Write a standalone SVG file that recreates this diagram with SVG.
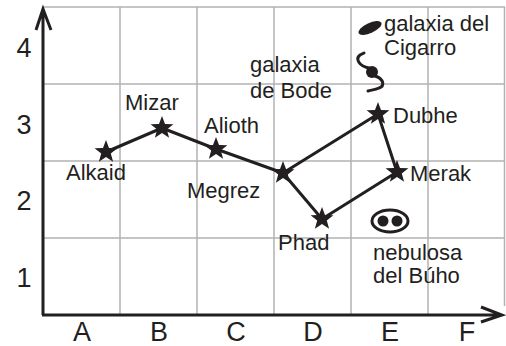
<svg xmlns="http://www.w3.org/2000/svg" width="506" height="346" viewBox="0 0 506 346">
  <defs>
    <style>
      .grid { stroke: #b3b3b3; stroke-width: 1.5; fill: none; }
      .axis { stroke: #231f20; stroke-width: 3; fill: none; stroke-linecap: butt; }
      .link { stroke: #231f20; stroke-width: 3; fill: none; stroke-linejoin: round; }
      .star { fill: #231f20; }
      .lbl { font-family: "Liberation Sans", Arial, sans-serif; font-size: 22px; fill: #231f20; }
      .tick { font-family: "Liberation Sans", Arial, sans-serif; font-size: 27px; fill: #231f20; text-anchor: middle; }
      .ink { fill: #231f20; }
      .arm { stroke: #231f20; stroke-width: 3; fill: none; stroke-linecap: round; }
    </style>
    <polygon id="star" points="0,-12 3,-4.1 11.4,-3.7 4.8,1.6 7.1,9.7 0,5 -7.1,9.7 -4.8,1.6 -11.4,-3.7 -3,-4.1"/>
  </defs>

  <!-- grid -->
  <g id="grid">
    <path class="grid" d="M43,7 H505 M43,84 H505 M43,161 H505 M43,238 H505"/>
    <path class="grid" d="M120,7 V315 M197,7 V315 M274,7 V315 M351,7 V315 M428,7 V315 M504.5,7 V306"/>
  </g>

  <!-- axes -->
  <g id="axes">
    <path class="axis" d="M43,315 V9 M36,30 L43,9 L51,30"/>
    <path class="axis" d="M42,315 H502 M481,307 L502,315 L481,322"/>
  </g>

  <!-- axis labels -->
  <g id="ticks">
    <text class="tick" x="24" y="57">4</text>
    <text class="tick" x="24" y="134">3</text>
    <text class="tick" x="24" y="210">2</text>
    <text class="tick" x="24" y="287">1</text>
    <text class="tick" x="82" y="341">A</text>
    <text class="tick" x="159" y="341">B</text>
    <text class="tick" x="236" y="341">C</text>
    <text class="tick" x="313" y="341">D</text>
    <text class="tick" x="390" y="341">E</text>
    <text class="tick" x="467" y="341">F</text>
  </g>

  <!-- connectors -->
  <g id="connectors">
    <polyline class="link" points="106,152 162,128 216,149 283,173 322,219 397,172 378,114 283,173"/>
  </g>

  <!-- stars -->
  <g id="alkaid"><use href="#star" class="star" x="106" y="152"/><text class="lbl" x="66" y="180">Alkaid</text></g>
  <g id="mizar"><use href="#star" class="star" x="162" y="128"/><text class="lbl" x="125" y="110">Mizar</text></g>
  <g id="alioth"><use href="#star" class="star" x="216" y="149"/><text class="lbl" x="204" y="133">Alioth</text></g>
  <g id="megrez"><use href="#star" class="star" x="283" y="173"/><text class="lbl" x="187" y="198">Megrez</text></g>
  <g id="phad"><use href="#star" class="star" x="322" y="219"/><text class="lbl" x="278" y="250">Phad</text></g>
  <g id="merak"><use href="#star" class="star" x="397" y="172"/><text class="lbl" x="410" y="181">Merak</text></g>
  <g id="dubhe"><use href="#star" class="star" x="378" y="114"/><text class="lbl" x="393" y="123">Dubhe</text></g>

  <!-- Cigar galaxy -->
  <g id="cigarro">
    <ellipse class="ink" cx="370" cy="28" rx="12.5" ry="5" transform="rotate(-25 370 28)"/>
    <text class="lbl" x="384" y="31">galaxia del</text>
    <text class="lbl" x="384" y="55">Cigarro</text>
  </g>

  <!-- Bode galaxy -->
  <g id="bode">
    <circle class="ink" cx="372" cy="72" r="6"/>
    <path class="arm" d="M369,68 C359,66 355,59 360,55 L364,53"/>
    <path class="arm" d="M375,76 C384,79 385,86 379,88 C375,90 371,90 368,91"/>
    <text class="lbl" x="250" y="72">galaxia</text>
    <text class="lbl" x="250" y="98">de Bode</text>
  </g>

  <!-- Owl nebula -->
  <g id="buho">
    <ellipse cx="390" cy="221" rx="18" ry="11" fill="#fff" stroke="#231f20" stroke-width="3"/>
    <circle class="ink" cx="383" cy="221" r="5.5"/>
    <circle class="ink" cx="397" cy="221" r="5.5"/>
    <text class="lbl" x="373" y="260">nebulosa</text>
    <text class="lbl" x="373" y="283">del Búho</text>
  </g>
</svg>
